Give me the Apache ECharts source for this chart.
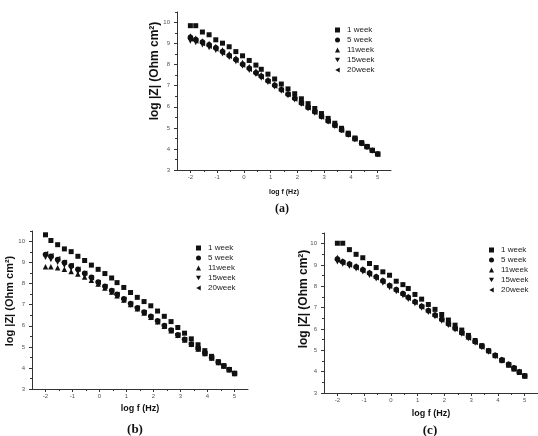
<!DOCTYPE html>
<html>
<head>
<meta charset="utf-8">
<title>log |Z| vs log f</title>
<script src="https://cdn.jsdelivr.net/npm/echarts@6/dist/echarts.min.js"></script>
<style>
  html, body { margin: 0; padding: 0; background: #fff; }
  #chart { width: 538px; height: 436px; }
</style>
</head>
<body>
<div id="chart"></div>
<script>
// 频率点 log f (Hz)
const logF = [-2, -1.8, -1.55, -1.3, -1.05, -0.8, -0.55, -0.3, -0.05, 0.2, 0.45, 0.65, 0.9, 1.15, 1.4,
              1.65, 1.9, 2.15, 2.4, 2.65, 2.9, 3.15, 3.4, 3.65, 3.9, 4.15, 4.4, 4.6, 4.8, 5];

const seriesNames = ['1 week', '5 week', '11week', '15week', '20week'];

// 刻度
const xTicks = [-2, -1, 0, 1, 2, 3, 4, 5];
const xMinorTicks = [-1.5, -0.5, 0.5, 1.5, 2.5, 3.5, 4.5];
const yTicks = [3, 4, 5, 6, 7, 8, 9, 10];
const yMinorTicks = [3.5, 4.5, 5.5, 6.5, 7.5, 8.5, 9.5, 10.5];

// (a) log |Z|
const a1w  = [9.85, 9.85, 9.55, 9.42, 9.18, 9.02, 8.85, 8.62, 8.42, 8.2, 7.98, 7.78, 7.55, 7.32, 7.08, 6.85, 6.62, 6.38, 6.15, 5.92, 5.68, 5.45, 5.22, 4.98, 4.75, 4.52, 4.3, 4.12, 3.94, 3.76];
const a5w  = [9.3, 9.2, 9.08, 8.95, 8.8, 8.62, 8.44, 8.25, 8.02, 7.83, 7.62, 7.45, 7.24, 7.02, 6.82, 6.6, 6.4, 6.18, 5.97, 5.76, 5.54, 5.33, 5.12, 4.9, 4.69, 4.48, 4.27, 4.1, 3.93, 3.76];
const a11w = [9.36, 9.25, 9.12, 9.0, 8.86, 8.7, 8.52, 8.32, 8.1, 7.9, 7.7, 7.52, 7.3, 7.08, 6.87, 6.66, 6.45, 6.23, 6.02, 5.8, 5.58, 5.37, 5.15, 4.93, 4.71, 4.5, 4.29, 4.12, 3.95, 3.78];
const a15w = [9.12, 9.05, 8.95, 8.82, 8.68, 8.52, 8.35, 8.15, 7.94, 7.74, 7.54, 7.37, 7.16, 6.95, 6.75, 6.54, 6.34, 6.13, 5.92, 5.71, 5.5, 5.29, 5.08, 4.87, 4.66, 4.45, 4.25, 4.08, 3.91, 3.74];
const a20w = [9.22, 9.12, 9.0, 8.88, 8.74, 8.57, 8.4, 8.2, 7.98, 7.78, 7.58, 7.41, 7.2, 6.99, 6.79, 6.58, 6.37, 6.16, 5.95, 5.74, 5.52, 5.31, 5.1, 4.89, 4.68, 4.47, 4.26, 4.09, 3.92, 3.75];

// (b) log |Z|
const b1w  = [10.32, 10.05, 9.85, 9.65, 9.52, 9.3, 9.1, 8.88, 8.68, 8.48, 8.27, 8.05, 7.82, 7.58, 7.35, 7.15, 6.95, 6.7, 6.45, 6.2, 5.92, 5.65, 5.38, 5.1, 4.82, 4.55, 4.3, 4.1, 3.92, 3.75];
const b5w  = [9.38, 9.3, 9.15, 9.0, 8.85, 8.68, 8.5, 8.3, 8.08, 7.88, 7.68, 7.5, 7.28, 7.06, 6.86, 6.66, 6.45, 6.24, 6.02, 5.8, 5.58, 5.36, 5.14, 4.92, 4.7, 4.48, 4.27, 4.1, 3.92, 3.74];
const b11w = [8.8, 8.8, 8.75, 8.68, 8.58, 8.46, 8.32, 8.16, 7.98, 7.8, 7.6, 7.43, 7.22, 7.01, 6.81, 6.61, 6.4, 6.19, 5.98, 5.77, 5.55, 5.33, 5.12, 4.9, 4.68, 4.47, 4.26, 4.09, 3.91, 3.73];
const b15w = [9.25, 9.15, 9.02, 8.88, 8.72, 8.55, 8.37, 8.18, 7.97, 7.78, 7.58, 7.41, 7.2, 6.99, 6.79, 6.59, 6.38, 6.17, 5.96, 5.75, 5.53, 5.32, 5.1, 4.88, 4.66, 4.45, 4.24, 4.07, 3.9, 3.72];
const b20w = [9.42, 9.32, 9.18, 9.02, 8.86, 8.68, 8.49, 8.28, 8.06, 7.86, 7.66, 7.48, 7.26, 7.04, 6.84, 6.63, 6.42, 6.21, 5.99, 5.78, 5.56, 5.34, 5.12, 4.9, 4.68, 4.47, 4.26, 4.09, 3.92, 3.74];

// (c) log |Z|
const c1w  = [10.02, 10.02, 9.72, 9.5, 9.34, 9.07, 8.88, 8.68, 8.52, 8.24, 8.08, 7.9, 7.62, 7.4, 7.15, 6.92, 6.68, 6.42, 6.18, 5.95, 5.7, 5.46, 5.22, 4.98, 4.75, 4.52, 4.3, 4.12, 3.96, 3.8];
const c5w  = [9.28, 9.15, 9.05, 8.92, 8.78, 8.62, 8.45, 8.26, 8.04, 7.85, 7.66, 7.49, 7.28, 7.07, 6.87, 6.66, 6.46, 6.25, 6.04, 5.83, 5.62, 5.41, 5.2, 4.98, 4.77, 4.56, 4.35, 4.18, 4.0, 3.8];
const c11w = [9.35, 9.2, 9.08, 8.96, 8.82, 8.66, 8.49, 8.3, 8.08, 7.88, 7.69, 7.52, 7.31, 7.1, 6.9, 6.69, 6.49, 6.28, 6.07, 5.86, 5.64, 5.43, 5.22, 5.0, 4.79, 4.58, 4.37, 4.2, 4.02, 3.82];
const c15w = [9.15, 9.05, 8.94, 8.82, 8.68, 8.52, 8.35, 8.16, 7.95, 7.76, 7.57, 7.4, 7.2, 6.99, 6.79, 6.59, 6.38, 6.18, 5.97, 5.76, 5.55, 5.34, 5.13, 4.92, 4.71, 4.5, 4.3, 4.13, 3.96, 3.78];
const c20w = [9.22, 9.1, 9.0, 8.87, 8.73, 8.57, 8.4, 8.21, 8.0, 7.8, 7.61, 7.44, 7.24, 7.03, 6.83, 6.62, 6.42, 6.21, 6.0, 5.79, 5.58, 5.37, 5.16, 4.95, 4.74, 4.53, 4.33, 4.16, 3.98, 3.79];

// 标记形状：方块、圆、上三角、下三角、左三角
const symbols = ['rect', 'circle', 'triangle', 'path://M0,0L10,0L5,9Z', 'path://M9,0L9,10L0,5Z'];
const symbolSizes = [5, 5.5, 5.5, 5.5, 5.5];

// 三个子图的位置
const panels = [
    { data: [a1w, a5w, a11w, a15w, a20w], caption: '(a)',
      grid: { left: 177, right: 147, top: 12, bottom: 266 },
      xNameGap: 19, xNameSize: 7, yName: [155, 71, 12],
      legend: [330, 21], cap: [282, 209, 12] },
    { data: [b1w, b5w, b11w, b15w, b20w], caption: '(b)',
      grid: { left: 32, right: 290, top: 231, bottom: 47 },
      xNameGap: 15, xNameSize: 9, yName: [10, 301, 11],
      legend: [191, 239], cap: [135, 430, 13] },
    { data: [c1w, c5w, c11w, c15w, c20w], caption: '(c)',
      grid: { left: 324, right: -2, top: 233, bottom: 43 },
      xNameGap: 16, xNameSize: 9, yName: [304, 299, 12],
      legend: [484, 241], cap: [430, 431, 13] }
];

const axisColor = '#333';
const font = 'Liberation Sans';

const xAxes = [];
const yAxes = [];
const series = [];

panels.forEach((p, i) => {
    // 主坐标轴
    xAxes.push({
        gridIndex: i, type: 'value', position: 'bottom', min: -2.5, max: 5.5,
        name: 'log f (Hz)', nameLocation: 'middle', nameGap: p.xNameGap,
        nameTextStyle: { fontFamily: font, fontWeight: 'bold', fontSize: p.xNameSize, color: '#111' },
        axisLine: { onZero: false, lineStyle: { color: axisColor, width: 1 } },
        axisTick: { length: 3, customValues: xTicks, lineStyle: { color: axisColor } },
        axisLabel: { customValues: xTicks, fontSize: 6, color: '#555', margin: 4, fontFamily: font },
        splitLine: { show: false }
    });
    // 次刻度（只画短刻度线）
    xAxes.push({
        gridIndex: i, type: 'value', position: 'bottom', min: -2.5, max: 5.5,
        axisLine: { show: false, onZero: false },
        axisTick: { length: 2, customValues: xMinorTicks, lineStyle: { color: axisColor } },
        axisLabel: { show: false },
        splitLine: { show: false }
    });
    yAxes.push({
        gridIndex: i, type: 'value', position: 'left', min: 3, max: 10.5,
        axisLine: { show: true, onZero: false, lineStyle: { color: axisColor, width: 1 } },
        axisTick: { show: true, length: 3, customValues: yTicks, lineStyle: { color: axisColor } },
        axisLabel: { customValues: yTicks, fontSize: 6, color: '#555', margin: 7, fontFamily: font },
        splitLine: { show: false }
    });
    yAxes.push({
        gridIndex: i, type: 'value', position: 'left', min: 3, max: 10.5,
        axisLine: { show: false, onZero: false },
        axisTick: { show: true, length: 2, customValues: yMinorTicks, lineStyle: { color: axisColor } },
        axisLabel: { show: false },
        splitLine: { show: false }
    });

    p.data.forEach((vals, k) => {
        series.push({
            name: seriesNames[k], type: 'scatter',
            xAxisIndex: i * 2, yAxisIndex: i * 2,
            symbol: symbols[k], symbolSize: symbolSizes[k],
            itemStyle: { color: '#111', opacity: 1 },
            data: logF.map((f, j) => [f, vals[j]])
        });
    });
});

const option = {
    backgroundColor: '#fff',
    animation: false,
    grid: panels.map(p => p.grid),
    xAxis: xAxes,
    yAxis: yAxes,
    legend: panels.map(p => ({
        data: seriesNames, orient: 'vertical',
        left: p.legend[0], top: p.legend[1],
        itemWidth: 5, itemHeight: 5, itemGap: 2,
        selectedMode: false,
        textStyle: { fontSize: 8, lineHeight: 8, fontFamily: font, color: '#222', padding: [0, 0, 0, 2] }
    })),
    // y轴标题和子图编号
    graphic: panels.flatMap(p => [
        { type: 'text', x: p.yName[0], y: p.yName[1], rotation: Math.PI / 2,
          style: { text: 'log |Z| (Ohm cm²)', font: 'bold ' + p.yName[2] + 'px "Liberation Sans"',
                   fill: '#111', textAlign: 'center', textVerticalAlign: 'middle' } },
        { type: 'text', x: p.cap[0], y: p.cap[1],
          style: { text: p.caption, font: 'bold ' + p.cap[2] + 'px "Liberation Serif"',
                   fill: '#111', textAlign: 'center', textVerticalAlign: 'middle' } }
    ]),
    series: series
};

const chart = echarts.init(document.getElementById('chart'));
chart.setOption(option);
</script>
</body>
</html>
